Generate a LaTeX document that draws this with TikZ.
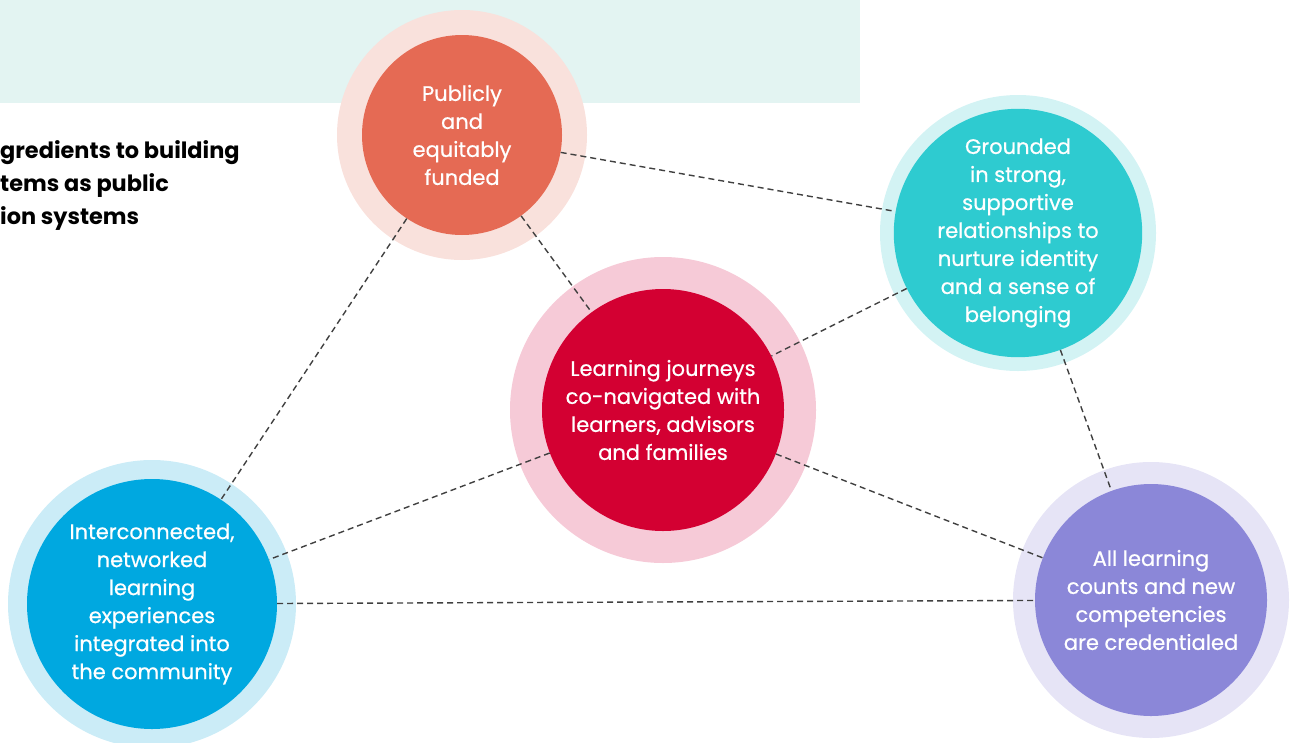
\documentclass[tikz,border=0pt]{standalone}
\usepackage{fontspec}
\setmainfont{Poppins}
\usetikzlibrary{backgrounds}
\definecolor{bandteal}{HTML}{E3F4F2}
\definecolor{fundred}{HTML}{E56A54}
\definecolor{fundhalo}{HTML}{F9E1DC}
\definecolor{groundteal}{HTML}{2ECBD0}
\definecolor{groundhalo}{HTML}{D3F3F4}
\definecolor{journeyred}{HTML}{D30032}
\definecolor{journeyhalo}{HTML}{F6CAD7}
\definecolor{netblue}{HTML}{00A8E0}
\definecolor{nethalo}{HTML}{CBECF7}
\definecolor{credpurple}{HTML}{8B87D8}
\definecolor{credhalo}{HTML}{E6E4F6}
\definecolor{linkgray}{HTML}{404040}
\tikzset{
  hub/.style={circle, inner sep=0pt, align=center, text=white, font=\addfontfeature{FakeBold=0.6}\fontsize{21}{28}\selectfont},
  link/.style={draw=linkgray, dash pattern=on 6pt off 4pt, line width=1.4pt},
  heading/.style={inner sep=0pt, align=left, text=black, font=\bfseries\fontsize{22.4}{33}\selectfont},
}

\begin{document}
\begin{tikzpicture}[x=1pt, y=-1pt]
\useasboundingbox (0,0) rectangle (1293,742);
\node[hub, fill=fundred, minimum size=200pt] (fund) at (462,135) {Publicly\\and\\equitably\\funded};
\node[hub, fill=groundteal, minimum size=242pt] (ground) at (1018,233) {Grounded\\in strong,\\supportive\\relationships to\\nurture identity\\and a sense of\\belonging};
\node[hub, fill=journeyred, minimum size=242pt] (journey) at (663,410) {Learning journeys\\co-navigated with\\learners, advisors\\and families};
\node[hub, fill=netblue, minimum size=250pt] (net) at (152,604) {Interconnected,\\networked\\learning\\experiences\\integrated into\\the community};
\node[hub, fill=credpurple, minimum size=232pt] (cred) at (1151,600) {All learning\\counts and new\\competencies\\are credentialed};
\begin{scope}[on background layer]
\fill[bandteal] (0,0) rectangle (860,103); % band across the top
\fill[fundhalo] (fund.center) circle[radius=125pt];
\fill[groundhalo] (ground.center) circle[radius=138pt];
\fill[journeyhalo] (journey.center) circle[radius=153pt];
\fill[nethalo] (net.center) circle[radius=144pt];
\fill[credhalo] (cred.center) circle[radius=138pt];
\end{scope}
\node[heading, anchor=north west] (title) at (0,140) {gredients to building\\tems as public\\ion systems};
\draw[link] (fund) -- (ground);
\draw[link] (fund) -- (journey);
\draw[link] (fund) -- (net);
\draw[link] (ground) -- (journey);
\draw[link] (ground) -- (cred);
\draw[link] (journey) -- (net);
\draw[link] (journey) -- (cred);
\draw[link] (net) -- (cred);
\end{tikzpicture}
\end{document}
